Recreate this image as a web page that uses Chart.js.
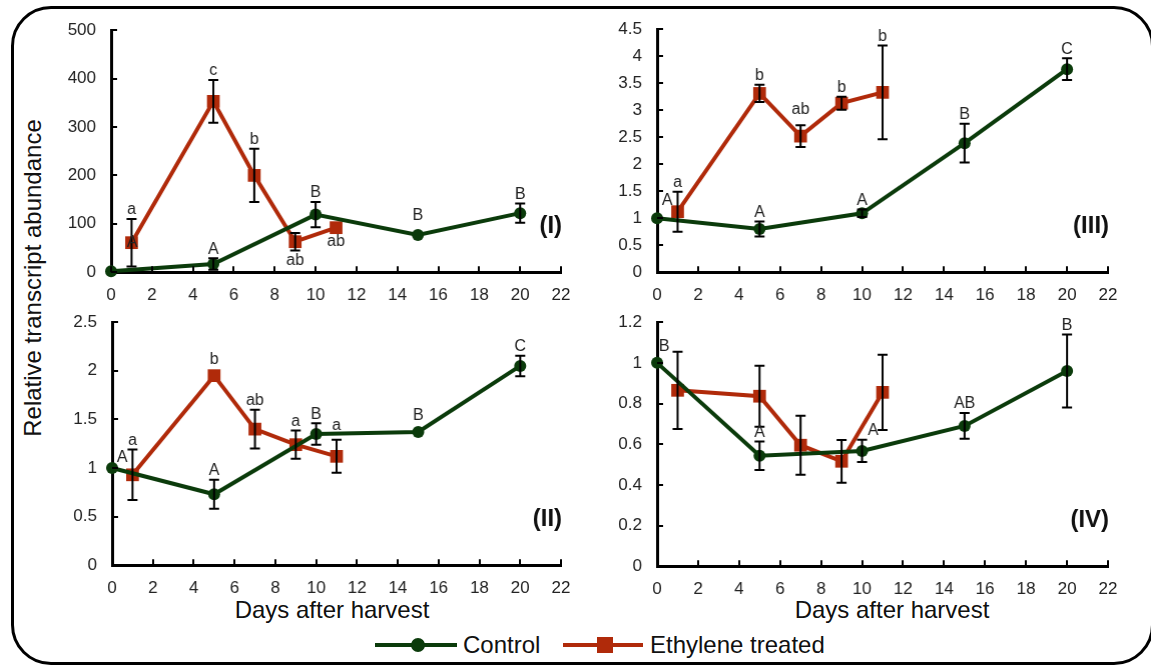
<!DOCTYPE html>
<html>
<head>
<meta charset="utf-8">
<script src="https://cdn.jsdelivr.net/npm/chart.js@4.4.0/dist/chart.umd.min.js"></script>
<style>
body { margin: 0; background: #fff; font-family: "Liberation Sans", Arial, sans-serif; }
#page { position: relative; width: 1151px; height: 666px; overflow: hidden; }
#frame { position: absolute; left: 11px; top: 6px; width: 1143px; height: 659px; border: 3px solid #000; border-radius: 40px; box-sizing: border-box; }
.panel { position: absolute; }
.ytitle { position: absolute; left: 33px; top: 278px; transform: translate(-50%, -50%) rotate(-90deg); font-size: 24px; white-space: nowrap; color: #111; }
.xtitle { position: absolute; top: 610px; transform: translate(-50%, -50%); font-size: 24px; white-space: nowrap; color: #111; }
.legend { position: absolute; top: 645px; font-size: 24px; color: #111; }
.lg-line { position: absolute; height: 4px; margin-top: -2px; }
.lg-dot { position: absolute; width: 14px; height: 14px; border-radius: 50%; margin: -7px 0 0 -7px; background: #0b3b0b; }
.lg-sq { position: absolute; width: 16px; height: 16px; margin: -8px 0 0 -8px; background: #b02a0a; }
.lg-text { position: absolute; transform: translateY(-50%); white-space: nowrap; }
</style>
</head>
<body>
<div id="page">
  <div id="frame"></div>
  <div class="ytitle">Relative transcript abundance</div>
  <div class="xtitle" style="left:332px">Days after harvest</div>
  <div class="xtitle" style="left:892px">Days after harvest</div>
  <div class="legend">
    <div class="lg-line" style="left:375px;width:82px;background:#0b3b0b"></div>
    <div class="lg-dot" style="left:418px"></div>
    <div class="lg-text" style="left:463px">Control</div>
    <div class="lg-line" style="left:563px;width:80px;background:#b02a0a"></div>
    <div class="lg-sq" style="left:605px"></div>
    <div class="lg-text" style="left:650px">Ethylene treated</div>
  </div>
</div>
<script>
// sampling days
const daysControl = [0, 5, 10, 15, 20];
const daysEthylene = [1, 5, 7, 9, 11];

// panel (I)
const ctrlI = [2, 17, 119, 77, 122];
const ctrlErrI = [0, 12, 26, 0, 20];
const ethI = [61, 353, 200, 63, 92];
const ethErrI = [49, 44, 55, 18, 0];
const ctrlLettersI = ["A", "A", "B", "B", "B"];
const ethLettersI = ["a", "c", "b", "ab", "ab"];

// panel (III)
const ctrlIII = [1.0, 0.80, 1.09, 2.39, 3.76];
const ctrlErrIII = [0, 0.14, 0.07, 0.36, 0.2];
const ethIII = [1.12, 3.31, 2.52, 3.13, 3.33];
const ethErrIII = [0.37, 0.16, 0.2, 0.12, 0.87];
const ctrlLettersIII = ["A", "A", "A", "B", "C"];
const ethLettersIII = ["a", "b", "ab", "b", "b"];

// panel (II)
const ctrlII = [1.0, 0.73, 1.35, 1.37, 2.05];
const ctrlErrII = [0, 0.15, 0.11, 0, 0.105];
const ethII = [0.93, 1.95, 1.40, 1.24, 1.12];
const ethErrII = [0.26, 0, 0.2, 0.145, 0.17];
const ctrlLettersII = ["A", "A", "B", "B", "C"];
const ethLettersII = ["a", "b", "ab", "a", "a"];

// panel (IV)
const ctrlIV = [1.0, 0.543, 0.567, 0.69, 0.96];
const ctrlErrIV = [0, 0.07, 0.055, 0.063, 0.18];
const ethIV = [0.865, 0.836, 0.595, 0.516, 0.855];
const ethErrIV = [0.19, 0.15, 0.145, 0.105, 0.185];
const ctrlLettersIV = ["B", "A", "A", "AB", "B"];
const ethLettersIV = ["", "", "", "", ""];

const xTickMax = 22;
const xTickStep = 2;

const GREEN = "#0b3b0b";
const RED = "#b02a0a";
const FONT = "'Liberation Sans', Arial, sans-serif";

const Y_W = 55, PAD_TOP = 14, PAD_RIGHT = 18, X_H = 34;

// error bars, letters, inward ticks and panel tag
const extrasPlugin = {
    id: "extras",
    afterDatasetsDraw(chart) {
        const ctx = chart.ctx;
        const xs = chart.scales.x, ys = chart.scales.y;
        const opts = chart.options.plugins.extras;
        ctx.save();
        ctx.strokeStyle = "#000";
        ctx.lineWidth = 2;
        chart.data.datasets.forEach((ds, di) => {
            ds.data.forEach((p, i) => {
                const e = ds.errors[i];
                if (!e) return;
                const px = xs.getPixelForValue(p.x);
                const top = ys.getPixelForValue(p.y + e);
                const bot = ys.getPixelForValue(p.y - e);
                ctx.beginPath();
                ctx.moveTo(px, top); ctx.lineTo(px, bot);
                ctx.moveTo(px - 5, top); ctx.lineTo(px + 5, top);
                ctx.moveTo(px - 5, bot); ctx.lineTo(px + 5, bot);
                ctx.stroke();
            });
        });
        // letters
        ctx.fillStyle = "#222";
        ctx.font = "16px " + FONT;
        ctx.textAlign = "center";
        ctx.textBaseline = "middle";
        chart.data.datasets.forEach((ds, di) => {
            ds.data.forEach((p, i) => {
                const txt = ds.letters[i];
                if (!txt) return;
                const e = ds.errors[i];
                const key = di + ":" + i;
                const below = opts.below.includes(key);
                const nudge = opts.nudge[key] || [0, 0];
                const px = xs.getPixelForValue(p.x);
                let py;
                if (below) {
                    py = e ? ys.getPixelForValue(p.y - e) + 10 : ys.getPixelForValue(p.y) + 14;
                } else {
                    py = e ? ys.getPixelForValue(p.y + e) - 9 : ys.getPixelForValue(p.y) - 16;
                }
                ctx.fillText(txt, px + nudge[0], py + nudge[1]);
            });
        });
        ctx.restore();
    },
    afterDraw(chart) {
        const ctx = chart.ctx;
        const xs = chart.scales.x, ys = chart.scales.y;
        const area = chart.chartArea;
        ctx.save();
        ctx.strokeStyle = "#000";
        ctx.lineWidth = 2;
        ctx.beginPath();
        xs.ticks.forEach(t => {
            const px = Math.round(xs.getPixelForValue(t.value));
            ctx.moveTo(px, area.bottom); ctx.lineTo(px, area.bottom - 6);
        });
        ys.ticks.forEach(t => {
            const py = Math.round(ys.getPixelForValue(t.value));
            ctx.moveTo(area.left, py); ctx.lineTo(area.left + 6, py);
        });
        ctx.stroke();
        ctx.fillStyle = "#111";
        ctx.font = "bold 24px " + FONT;
        ctx.textAlign = "right";
        ctx.textBaseline = "middle";
        ctx.fillText(chart.options.plugins.extras.tag, area.right + 1, area.bottom - 46);
        ctx.restore();
    }
};

function makePanel(area, yMax, yStep, ctrl, ctrlErr, ctrlLetters, eth, ethErr, ethLetters, tag, nudge, below) {
    const page = document.getElementById("page");
    let left = area.left - Y_W;
    let top = area.top - PAD_TOP;
    let w = area.right - left + PAD_RIGHT;
    let h = area.bottom - top + X_H;
    const wrap = document.createElement("div");
    wrap.className = "panel";
    const place = () => {
        wrap.style.left = left + "px";
        wrap.style.top = top + "px";
        wrap.style.width = w + "px";
        wrap.style.height = h + "px";
    };
    place();
    const canvas = document.createElement("canvas");
    wrap.appendChild(canvas);
    page.appendChild(wrap);

    const tickFont = { family: FONT, size: 17 };
    const chart = new Chart(canvas, {
        type: "line",
        data: {
            datasets: [{
                label: "Control",
                data: daysControl.map((d, i) => ({ x: d, y: ctrl[i] })),
                errors: ctrlErr,
                letters: ctrlLetters,
                borderColor: GREEN,
                backgroundColor: GREEN,
                borderWidth: 4,
                pointStyle: "circle",
                pointRadius: 6,
                pointBorderWidth: 0,
                tension: 0,
                clip: false
            }, {
                label: "Ethylene treated",
                data: daysEthylene.map((d, i) => ({ x: d, y: eth[i] })),
                errors: ethErr,
                letters: ethLetters,
                borderColor: RED,
                backgroundColor: RED,
                borderWidth: 4,
                pointStyle: "rect",
                pointRadius: 9,
                pointBorderWidth: 0,
                tension: 0,
                clip: false
            }]
        },
        options: {
            responsive: true,
            maintainAspectRatio: false,
            animation: false,
            layout: { autoPadding: false, padding: { top: PAD_TOP, right: PAD_RIGHT, left: 0, bottom: 0 } },
            plugins: {
                legend: { display: false },
                tooltip: { enabled: false },
                extras: { tag: tag, nudge: nudge, below: below }
            },
            scales: {
                x: {
                    type: "linear",
                    min: 0,
                    max: xTickMax,
                    grid: { display: false, drawTicks: false },
                    border: { display: true, color: "#000", width: 3 },
                    ticks: { stepSize: xTickStep, autoSkip: false, maxRotation: 0, color: "#222", font: tickFont, padding: 13 },
                    afterFit: s => { s.height = X_H; }
                },
                y: {
                    min: 0,
                    max: yMax,
                    grid: { display: false, drawTicks: false },
                    border: { display: true, color: "#000", width: 3 },
                    ticks: {
                        stepSize: yStep, color: "#222", font: tickFont, padding: 15,
                        callback: v => String(parseFloat(v.toFixed(2)))
                    },
                    afterFit: s => { s.width = Y_W; }
                }
            }
        },
        plugins: [extrasPlugin]
    });

    // line the plot area up with the target box
    const ca = chart.chartArea;
    const sL = area.left - (left + ca.left);
    const sT = area.top - (top + ca.top);
    left += sL; top += sT;
    w += area.right - (left + ca.right);
    h += area.bottom - (top + ca.bottom);
    place();
    chart.resize();
}

makePanel({ left: 111, top: 30, right: 560, bottom: 272 }, 500, 100,
    ctrlI, ctrlErrI, ctrlLettersI, ethI, ethErrI, ethLettersI, "(I)",
    { "0:0": [21, -13], "0:3": [0, -3] }, ["1:3", "1:4"]);

makePanel({ left: 657, top: 29, right: 1107, bottom: 272 }, 4.5, 0.5,
    ctrlIII, ctrlErrIII, ctrlLettersIII, ethIII, ethErrIII, ethLettersIII, "(III)",
    { "0:0": [10, -2], "1:2": [0, -7] }, []);

makePanel({ left: 112, top: 322, right: 560, bottom: 565 }, 2.5, 0.5,
    ctrlII, ctrlErrII, ctrlLettersII, ethII, ethErrII, ethLettersII, "(II)",
    { "0:0": [10, 6], "1:4": [0, -5] }, []);

makePanel({ left: 657, top: 322, right: 1107, bottom: 566 }, 1.2, 0.2,
    ctrlIV, ctrlErrIV, ctrlLettersIV, ethIV, ethErrIV, ethLettersIV, "(IV)",
    { "0:0": [7, 0], "0:2": [11, 0] }, []);
</script>
</body>
</html>
